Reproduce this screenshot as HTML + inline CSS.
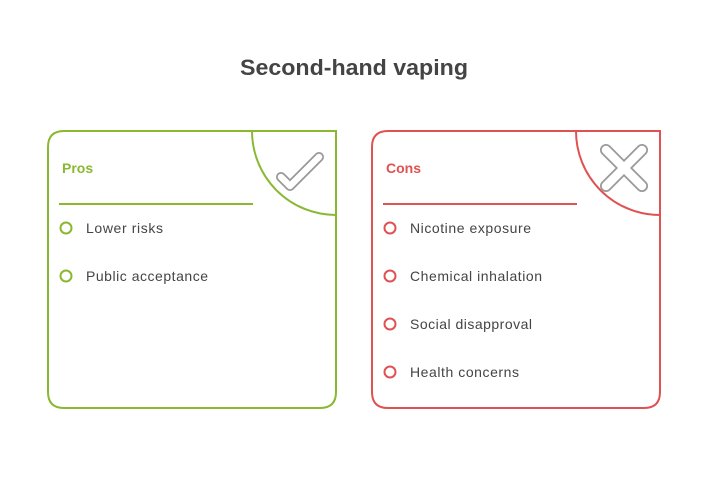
<!DOCTYPE html>
<html><head><style>body{margin:0;background:#fff}</style></head><body>
<svg width="708" height="480" xmlns="http://www.w3.org/2000/svg" font-family="Liberation Sans, sans-serif">
<text x="240" y="75" font-size="22" font-weight="bold" fill="#444" textLength="228" lengthAdjust="spacingAndGlyphs">Second-hand vaping</text>
<path d="M64 131 H336 V392 Q336 408 320 408 H64 Q48 408 48 392 V147 Q48 131 64 131 Z" fill="none" stroke="#8ab833" stroke-width="2"/>
<path d="M252 131 A84 84 0 0 0 336 215" fill="none" stroke="#8ab833" stroke-width="2"/>
<text x="62" y="173" font-size="14" font-weight="bold" fill="#8ab833">Pros</text>
<line x1="59" y1="204" x2="253" y2="204" stroke="#8ab833" stroke-width="2"/>
<circle cx="66" cy="228" r="5.5" fill="none" stroke="#8ab833" stroke-width="2"/>
<text x="86" y="233" font-size="14" fill="#444" textLength="77">Lower risks</text>
<circle cx="66" cy="276" r="5.5" fill="none" stroke="#8ab833" stroke-width="2"/>
<text x="86" y="281" font-size="14" fill="#444" textLength="122">Public acceptance</text>
<path d="M281 177 L290 186 L319 157" fill="none" stroke="#999" stroke-width="10" stroke-linecap="round" stroke-linejoin="round"/>
<path d="M281 177 L290 186 L319 157" fill="none" stroke="#fff" stroke-width="6.5" stroke-linecap="round" stroke-linejoin="round"/>

<path d="M388 131 H660 V392 Q660 408 644 408 H388 Q372 408 372 392 V147 Q372 131 388 131 Z" fill="none" stroke="#e05252" stroke-width="2"/>
<path d="M576 131 A84 84 0 0 0 660 215" fill="none" stroke="#e05252" stroke-width="2"/>
<text x="386" y="173" font-size="14" font-weight="bold" fill="#e05252">Cons</text>
<line x1="383" y1="204" x2="577" y2="204" stroke="#e05252" stroke-width="2"/>
<g font-size="14" fill="#444">
<circle cx="390" cy="228" r="5.5" fill="none" stroke="#e05252" stroke-width="2"/><text x="410" y="233" textLength="121">Nicotine exposure</text>
<circle cx="390" cy="276" r="5.5" fill="none" stroke="#e05252" stroke-width="2"/><text x="410" y="281" textLength="132">Chemical inhalation</text>
<circle cx="390" cy="324" r="5.5" fill="none" stroke="#e05252" stroke-width="2"/><text x="410" y="329" textLength="122">Social disapproval</text>
<circle cx="390" cy="372" r="5.5" fill="none" stroke="#e05252" stroke-width="2"/><text x="410" y="377" textLength="109">Health concerns</text>
</g>
<path d="M606 150 L642 186 M642 150 L606 186" fill="none" stroke="#999" stroke-width="12" stroke-linecap="round"/>
<path d="M606 150 L642 186 M642 150 L606 186" fill="none" stroke="#fff" stroke-width="8.5" stroke-linecap="round"/>
</svg>
</body></html>
